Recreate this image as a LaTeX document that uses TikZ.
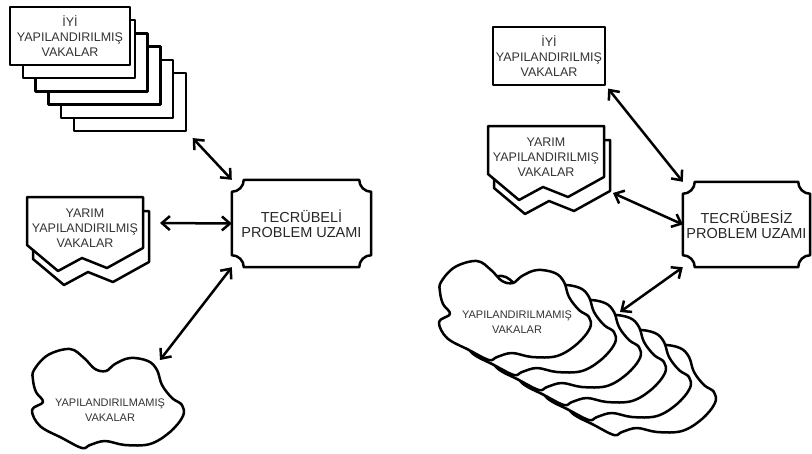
\documentclass[tikz,border=0pt]{standalone}
\usepackage{fontspec}
\setmainfont{Liberation Sans}
\usetikzlibrary{arrows.meta, calc}

% corner notch of the problem-space frame
\newcommand{\plr}{12pt}
\newcommand{\plk}{6.6pt}
\newcommand{\plaqueframe}[1]{%
  \draw[frameline]
    ([xshift=\plr]#1.north west) -- ([xshift=-\plr]#1.north east)
    .. controls +(0pt,-\plk) and +(-\plk,0pt) .. ([yshift=-\plr]#1.north east)
    -- ([yshift=\plr]#1.south east)
    .. controls +(-\plk,0pt) and +(0pt,\plk) .. ([xshift=-\plr]#1.south east)
    -- ([xshift=\plr]#1.south west)
    .. controls +(0pt,\plk) and +(\plk,0pt) .. ([yshift=\plr]#1.south west)
    -- ([yshift=-\plr]#1.north west)
    .. controls +(\plk,0pt) and +(0pt,-\plk) .. cycle;}

% outlines, drawn round their own centre
\newcommand{\halfpath}{(-58,-31) -- (58,-31) -- (58,20) -- (22,40) -- (-3,30) -- (-27,43) -- (-58,17) -- cycle}
\newcommand{\cloudpath}{plot[smooth cycle, tension=0.6] coordinates {(-76,-40) (-62,-55) (-40,-61) (-26,-52) (-15,-41) (-4,-39) (5,-46) (20,-52) (38,-49) (47,-40) (52,-25) (62,-12) (72,-5) (73,6) (60,22) (40,34) (15,35) (-5,31) (-20,35) (-28,38) (-48,28) (-70,16) (-78,0) (-67,-8) (-74,-18) (-77,-30)}}

\tikzset{
  frameline/.style={draw, line width=2.5pt, line join=round},
  caseline/.style={frameline, fill=white},
  casebox/.style={caseline, rectangle, minimum width=112pt, minimum height=58pt, inner sep=0pt},
  casetext/.style={align=center, text=black!80, font=\fontsize{12.5}{15}\selectfont, inner sep=0pt},
  cloudtext/.style={align=center, text=black!80, font=\fontsize{11}{15}\selectfont, inner sep=0pt},
  plaque/.style={align=center, text=black!85, font=\fontsize{14.5}{15}\selectfont, minimum width=139pt, minimum height=87pt, inner sep=0pt},
  link/.style={line width=2.5pt, {Straight Barb[length=8pt,width=14pt]}-{Straight Barb[length=8pt,width=14pt]}}
}

\begin{document}
\begin{tikzpicture}[x=1pt, y=-1pt]
    \useasboundingbox (0,0) rectangle (812,453);

    % ---- left: experienced ----
    % well structured cases (stack)
    \foreach \k in {5,4,3,2,1}
        \node[casebox] (goodL\k) at ({66+12.8*\k},{36+13.2*\k}) {};
    \node[casebox, minimum width=120pt, casetext] (goodL) at (70,36) {İYİ\\YAPILANDIRILMIŞ\\VAKALAR};

    % half structured cases
    \begin{scope}[shift={(85,228)}]
        \draw[caseline, shift={(6,14)}] \halfpath;
        \draw[caseline] \halfpath;
        \node[casetext] (halfL) at (0,0) {YARIM\\YAPILANDIRILMIŞ\\VAKALAR};
        \coordinate (halfL-out) at (75,-5);
    \end{scope}

    % unstructured cases
    \begin{scope}[shift={(110,410)}]
        \draw[caseline] \cloudpath;
        \node[cloudtext] (cloudL) at (0,0) {YAPILANDIRILMAMIŞ\\VAKALAR};
        \coordinate (cloudL-out) at (50,-50);
    \end{scope}

    % problem space
    \node[plaque] (expert) at (301.5,223.5) {TECRÜBELİ\\PROBLEM UZAMI};
    \plaqueframe{expert}

    \draw[link, shorten <=8pt] (goodL5.south east) -- (expert.north west);
    \draw[link] (halfL-out) -- (expert.west);
    \draw[link] (cloudL-out) -- (expert.south west);

    % ---- right: inexperienced ----
    \node[casebox, casetext] (goodR) at (549,56) {İYİ\\YAPILANDIRILMIŞ\\VAKALAR};

    \begin{scope}[shift={(546,157)}]
        \draw[caseline, shift={(6,14)}] \halfpath;
        \draw[caseline] \halfpath;
        \node[casetext] (halfR) at (0,0) {YARIM\\YAPILANDIRILMIŞ\\VAKALAR};
        \coordinate (halfR-out) at (67,36);
    \end{scope}

    % unstructured cases (stack)
    \foreach \k in {5,4,3,2,1}
        \draw[caseline, shift={({517+25*\k},{322+15*\k})}] \cloudpath;
    \begin{scope}[shift={(517,322)}]
        \draw[caseline] \cloudpath;
        \node[cloudtext] (cloudR) at (0,0) {YAPILANDIRILMAMIŞ\\VAKALAR};
        \coordinate (cloudR-out) at (103,-10);
    \end{scope}

    \node[plaque, minimum width=127pt, minimum height=85pt] (novice) at (746.5,224.5) {TECRÜBESİZ\\PROBLEM UZAMI};
    \plaqueframe{novice}

    \draw[link, shorten <=3pt] (goodR.south east) -- (novice.north west);
    \draw[link] (halfR-out) -- (novice.west);
    \draw[link] (cloudR-out) -- (novice.south west);
\end{tikzpicture}
\end{document}
